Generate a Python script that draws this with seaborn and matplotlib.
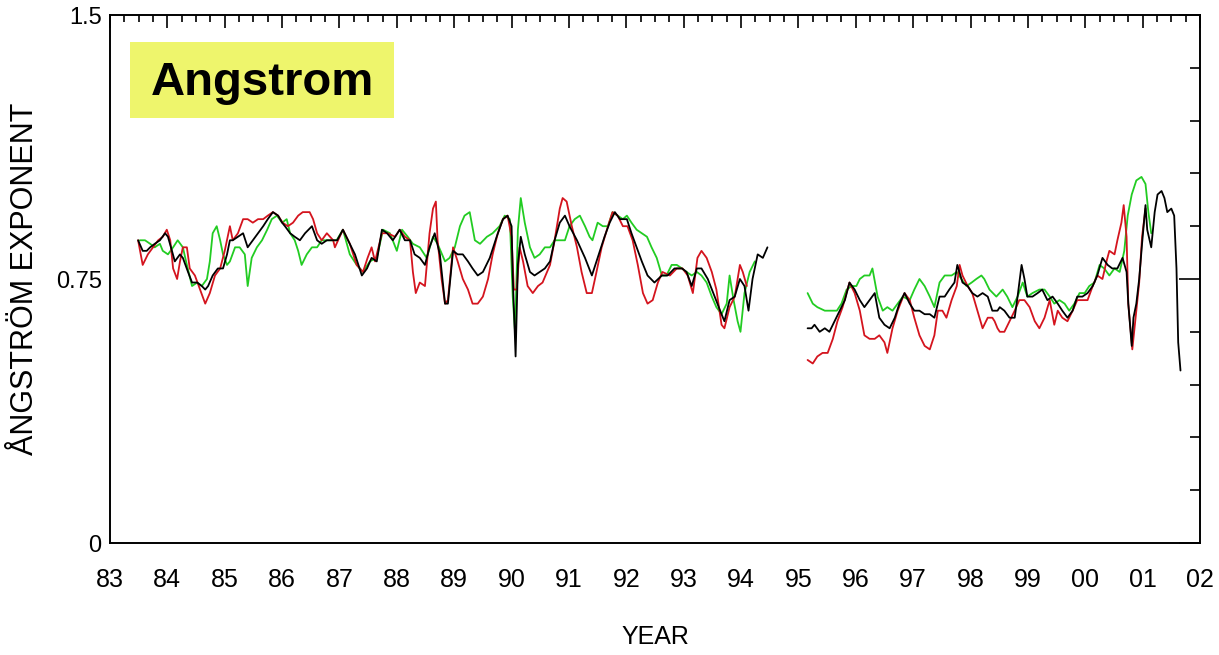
import matplotlib
matplotlib.use("Agg")
import matplotlib.pyplot as plt
from matplotlib.patches import Rectangle
from matplotlib.ticker import MultipleLocator, FixedLocator
import seaborn as sns
import pandas as pd

# ---------------- data ----------------
# Segment 1 (1983.5 - 1994.5)
black1_year = [83.49, 83.57, 83.64, 83.70, 83.78, 83.87, 83.96, 84.01, 84.08, 84.13, 84.22, 84.27, 84.36, 84.43,
               84.52, 84.60, 84.66, 84.71, 84.79, 84.88, 84.97, 85.04, 85.09, 85.14, 85.23, 85.32, 85.40, 85.49,
               85.58, 85.67, 85.75, 85.84, 85.93, 86.00, 86.05, 86.14, 86.22, 86.31, 86.40, 86.52, 86.61, 86.69,
               86.78, 86.89, 86.96, 87.06, 87.15, 87.27, 87.39, 87.48, 87.56, 87.65, 87.74, 87.83, 87.93, 88.05,
               88.14, 88.23, 88.31, 88.40, 88.49, 88.57, 88.66, 88.75, 88.84, 88.89, 88.98, 89.06, 89.15, 89.24,
               89.32, 89.41, 89.50, 89.62, 89.74, 89.85, 89.93, 90.00, 90.02, 90.07, 90.11, 90.16, 90.23, 90.32,
               90.40, 90.49, 90.58, 90.67, 90.75, 90.84, 90.93, 91.01, 91.14, 91.28, 91.40, 91.50, 91.62, 91.71,
               91.80, 91.89, 92.01, 92.09, 92.18, 92.27, 92.37, 92.49, 92.62, 92.72, 92.84, 92.97, 93.05, 93.14,
               93.23, 93.31, 93.42, 93.54, 93.66, 93.71, 93.80, 93.89, 93.98, 94.06, 94.13, 94.20, 94.29, 94.38,
               94.46]
black1_val = [0.86, 0.83, 0.83, 0.84, 0.85, 0.86, 0.88, 0.87, 0.83, 0.80, 0.82, 0.81, 0.77, 0.74,
              0.74, 0.73, 0.72, 0.73, 0.76, 0.78, 0.78, 0.82, 0.86, 0.86, 0.87, 0.88, 0.84, 0.86,
              0.88, 0.90, 0.92, 0.94, 0.93, 0.91, 0.90, 0.88, 0.87, 0.86, 0.88, 0.90, 0.86, 0.85,
              0.86, 0.86, 0.86, 0.89, 0.86, 0.82, 0.76, 0.78, 0.81, 0.80, 0.89, 0.88, 0.86, 0.89,
              0.86, 0.86, 0.82, 0.81, 0.79, 0.84, 0.88, 0.82, 0.68, 0.68, 0.83, 0.82, 0.82, 0.80,
              0.78, 0.76, 0.77, 0.81, 0.87, 0.92, 0.93, 0.90, 0.76, 0.53, 0.79, 0.87, 0.82, 0.77,
              0.76, 0.77, 0.78, 0.80, 0.86, 0.91, 0.93, 0.90, 0.86, 0.81, 0.76, 0.81, 0.87, 0.91,
              0.94, 0.92, 0.92, 0.88, 0.84, 0.80, 0.76, 0.74, 0.76, 0.76, 0.78, 0.78, 0.77, 0.73,
              0.78, 0.78, 0.75, 0.70, 0.65, 0.63, 0.69, 0.70, 0.75, 0.73, 0.66, 0.75, 0.82, 0.81,
              0.84]

red1_year = [83.49, 83.57, 83.66, 83.75, 83.84, 83.92, 83.99, 84.05, 84.10, 84.17, 84.22, 84.27, 84.34, 84.39,
             84.48, 84.57, 84.66, 84.74, 84.83, 84.92, 85.00, 85.09, 85.14, 85.23, 85.32, 85.40, 85.49, 85.58,
             85.67, 85.75, 85.84, 85.93, 86.01, 86.10, 86.19, 86.28, 86.36, 86.48, 86.54, 86.61, 86.69, 86.78,
             86.89, 86.92, 87.06, 87.18, 87.30, 87.41, 87.49, 87.56, 87.62, 87.74, 87.84, 87.97, 88.05, 88.14,
             88.23, 88.28, 88.33, 88.40, 88.49, 88.57, 88.63, 88.68, 88.71, 88.78, 88.84, 88.89, 88.98, 89.06,
             89.15, 89.24, 89.32, 89.41, 89.50, 89.59, 89.67, 89.76, 89.85, 89.93, 90.00, 90.04, 90.09, 90.14,
             90.20, 90.28, 90.37, 90.46, 90.54, 90.67, 90.75, 90.84, 90.89, 90.96, 91.05, 91.14, 91.22, 91.31,
             91.40, 91.48, 91.57, 91.68, 91.76, 91.85, 91.94, 92.02, 92.11, 92.20, 92.29, 92.37, 92.46, 92.55,
             92.63, 92.76, 92.88, 92.98, 93.07, 93.16, 93.24, 93.31, 93.40, 93.49, 93.57, 93.66, 93.71, 93.80,
             93.89, 93.98, 94.03, 94.10]
red1_val = [0.86, 0.79, 0.82, 0.84, 0.86, 0.87, 0.89, 0.86, 0.78, 0.75, 0.80, 0.84, 0.84, 0.78,
            0.76, 0.72, 0.68, 0.71, 0.76, 0.78, 0.83, 0.90, 0.86, 0.88, 0.92, 0.92, 0.91, 0.92,
            0.92, 0.93, 0.94, 0.93, 0.91, 0.90, 0.91, 0.93, 0.94, 0.94, 0.92, 0.88, 0.86, 0.88,
            0.86, 0.84, 0.89, 0.85, 0.79, 0.77, 0.81, 0.84, 0.80, 0.88, 0.88, 0.87, 0.89, 0.87,
            0.86, 0.77, 0.71, 0.74, 0.73, 0.88, 0.95, 0.97, 0.86, 0.75, 0.68, 0.69, 0.84, 0.80,
            0.75, 0.72, 0.68, 0.68, 0.70, 0.75, 0.82, 0.88, 0.92, 0.93, 0.87, 0.72, 0.72, 0.84,
            0.80, 0.73, 0.71, 0.73, 0.74, 0.79, 0.86, 0.95, 0.98, 0.97, 0.90, 0.84, 0.77, 0.71,
            0.71, 0.77, 0.84, 0.90, 0.94, 0.93, 0.90, 0.90, 0.86, 0.79, 0.71, 0.68, 0.69, 0.74,
            0.77, 0.76, 0.78, 0.78, 0.76, 0.71, 0.81, 0.83, 0.81, 0.77, 0.72, 0.62, 0.61, 0.67,
            0.70, 0.79, 0.77, 0.73]

green1_year = [83.52, 83.61, 83.70, 83.78, 83.87, 83.92, 84.01, 84.10, 84.18, 84.27, 84.34, 84.43, 84.52, 84.60,
               84.69, 84.74, 84.79, 84.86, 84.92, 84.97, 85.04, 85.09, 85.18, 85.26, 85.35, 85.40, 85.47, 85.56,
               85.65, 85.74, 85.82, 85.91, 86.00, 86.08, 86.14, 86.22, 86.28, 86.34, 86.43, 86.52, 86.61, 86.69,
               86.78, 86.89, 86.95, 87.06, 87.18, 87.30, 87.41, 87.53, 87.65, 87.76, 87.88, 88.00, 88.09, 88.19,
               88.28, 88.40, 88.52, 88.63, 88.71, 88.84, 88.92, 89.01, 89.10, 89.18, 89.27, 89.36, 89.45, 89.57,
               89.67, 89.79, 89.88, 89.97, 90.02, 90.06, 90.11, 90.16, 90.23, 90.32, 90.40, 90.49, 90.58, 90.67,
               90.75, 90.84, 90.93, 91.01, 91.10, 91.19, 91.28, 91.36, 91.41, 91.50, 91.59, 91.68, 91.76, 91.85,
               91.94, 92.01, 92.09, 92.18, 92.27, 92.36, 92.44, 92.53, 92.62, 92.70, 92.79, 92.88, 92.97, 93.05,
               93.14, 93.23, 93.31, 93.40, 93.49, 93.57, 93.66, 93.75, 93.80, 93.87, 93.94, 93.99, 94.06, 94.15,
               94.24]
green1_val = [0.86, 0.86, 0.85, 0.84, 0.85, 0.83, 0.82, 0.84, 0.86, 0.84, 0.79, 0.73, 0.74, 0.73,
              0.75, 0.80, 0.88, 0.90, 0.86, 0.82, 0.79, 0.80, 0.84, 0.84, 0.82, 0.73, 0.81, 0.84,
              0.86, 0.89, 0.92, 0.93, 0.91, 0.92, 0.88, 0.86, 0.83, 0.79, 0.82, 0.84, 0.84, 0.86,
              0.86, 0.86, 0.86, 0.89, 0.82, 0.79, 0.77, 0.80, 0.81, 0.89, 0.88, 0.83, 0.89, 0.87,
              0.85, 0.84, 0.81, 0.87, 0.85, 0.80, 0.81, 0.84, 0.90, 0.93, 0.94, 0.86, 0.85, 0.87,
              0.88, 0.90, 0.93, 0.92, 0.70, 0.60, 0.89, 0.98, 0.91, 0.84, 0.81, 0.82, 0.84, 0.84,
              0.86, 0.86, 0.86, 0.90, 0.92, 0.93, 0.90, 0.87, 0.86, 0.91, 0.90, 0.90, 0.94, 0.93,
              0.92, 0.93, 0.91, 0.89, 0.88, 0.87, 0.84, 0.81, 0.76, 0.76, 0.79, 0.79, 0.78, 0.77,
              0.76, 0.77, 0.76, 0.74, 0.70, 0.67, 0.65, 0.68, 0.76, 0.69, 0.63, 0.60, 0.71, 0.77,
              0.80]

# Segment 2 (1995.2 - 2001.7)
black2_year = [95.16, 95.23, 95.28, 95.37, 95.46, 95.54, 95.63, 95.72, 95.81, 95.89, 95.98, 96.07, 96.15, 96.24,
               96.33, 96.41, 96.50, 96.59, 96.68, 96.76, 96.85, 96.94, 97.02, 97.11, 97.20, 97.29, 97.37, 97.46,
               97.55, 97.63, 97.72, 97.77, 97.86, 97.95, 98.03, 98.12, 98.21, 98.30, 98.38, 98.47, 98.51, 98.59,
               98.68, 98.77, 98.82, 98.89, 98.94, 98.99, 99.08, 99.17, 99.25, 99.34, 99.43, 99.52, 99.60, 99.69,
               99.78, 99.86, 99.95, 100.04, 100.13, 100.21, 100.30, 100.39, 100.47, 100.56, 100.65, 100.72, 100.75,
               100.81, 100.84, 100.89, 100.94, 100.99, 101.05, 101.08, 101.15, 101.21, 101.26, 101.33, 101.38,
               101.43, 101.50, 101.55, 101.59, 101.62, 101.66]
black2_val = [0.61, 0.61, 0.62, 0.60, 0.61, 0.60, 0.63, 0.66, 0.69, 0.74, 0.72, 0.69, 0.67, 0.69,
              0.71, 0.64, 0.62, 0.61, 0.64, 0.68, 0.71, 0.68, 0.66, 0.66, 0.65, 0.65, 0.64, 0.70,
              0.70, 0.72, 0.74, 0.79, 0.74, 0.73, 0.71, 0.70, 0.71, 0.70, 0.66, 0.66, 0.67, 0.66,
              0.64, 0.64, 0.70, 0.79, 0.75, 0.70, 0.70, 0.71, 0.72, 0.69, 0.70, 0.68, 0.66, 0.64,
              0.66, 0.70, 0.70, 0.71, 0.73, 0.76, 0.81, 0.79, 0.78, 0.78, 0.81, 0.77, 0.68,
              0.56, 0.64, 0.68, 0.75, 0.85, 0.96, 0.89, 0.84, 0.94, 0.99, 1.00, 0.98,
              0.94, 0.95, 0.93, 0.78, 0.57, 0.49]

red2_year = [95.16, 95.25, 95.33, 95.42, 95.51, 95.60, 95.68, 95.77, 95.89, 95.98, 96.07, 96.15, 96.24, 96.33,
             96.41, 96.50, 96.55, 96.64, 96.73, 96.85, 96.94, 97.02, 97.11, 97.20, 97.29, 97.37, 97.43, 97.51,
             97.58, 97.67, 97.76, 97.81, 97.86, 97.95, 98.03, 98.12, 98.21, 98.30, 98.38, 98.42, 98.47, 98.51,
             98.59, 98.68, 98.77, 98.85, 98.94, 99.03, 99.12, 99.20, 99.29, 99.38, 99.46, 99.52, 99.60, 99.69,
             99.78, 99.86, 99.95, 100.04, 100.13, 100.21, 100.30, 100.37, 100.42, 100.51, 100.56, 100.63, 100.67,
             100.72, 100.75, 100.82, 100.89, 100.94, 100.99, 101.05]
red2_val = [0.52, 0.51, 0.53, 0.54, 0.54, 0.58, 0.63, 0.67, 0.74, 0.71, 0.66, 0.59, 0.58, 0.58,
            0.59, 0.57, 0.54, 0.61, 0.66, 0.71, 0.69, 0.64, 0.59, 0.56, 0.55, 0.59, 0.66, 0.66,
            0.64, 0.69, 0.73, 0.79, 0.76, 0.73, 0.71, 0.66, 0.61, 0.64, 0.64, 0.63, 0.61, 0.60,
            0.60, 0.63, 0.66, 0.69, 0.69, 0.67, 0.63, 0.61, 0.64, 0.69, 0.62, 0.66, 0.64, 0.63,
            0.66, 0.69, 0.69, 0.69, 0.73, 0.76, 0.75, 0.80, 0.83, 0.82, 0.86, 0.91, 0.96,
            0.87, 0.68, 0.55, 0.66, 0.74, 0.87, 0.95]

green2_year = [95.16, 95.25, 95.33, 95.46, 95.58, 95.67, 95.75, 95.84, 95.93, 96.01, 96.07, 96.15, 96.24, 96.29,
               96.38, 96.47, 96.55, 96.64, 96.73, 96.82, 96.94, 97.02, 97.11, 97.20, 97.29, 97.37, 97.46, 97.55,
               97.67, 97.76, 97.84, 97.93, 98.02, 98.10, 98.19, 98.24, 98.33, 98.45, 98.56, 98.64, 98.73, 98.82,
               98.91, 98.99, 99.08, 99.20, 99.29, 99.38, 99.46, 99.55, 99.64, 99.72, 99.81, 99.90, 99.99, 100.07,
               100.16, 100.25, 100.33, 100.42, 100.51, 100.60, 100.68, 100.74, 100.81, 100.89, 100.98, 101.05,
               101.10, 101.15]
green2_val = [0.71, 0.68, 0.67, 0.66, 0.66, 0.66, 0.68, 0.72, 0.73, 0.73, 0.75, 0.76, 0.76, 0.78,
              0.70, 0.66, 0.67, 0.66, 0.68, 0.70, 0.69, 0.72, 0.75, 0.73, 0.70, 0.67, 0.74, 0.76,
              0.76, 0.77, 0.75, 0.73, 0.74, 0.75, 0.76, 0.75, 0.72, 0.70, 0.72, 0.70, 0.67, 0.70,
              0.74, 0.70, 0.71, 0.72, 0.72, 0.70, 0.68, 0.69, 0.68, 0.66, 0.68, 0.71, 0.71, 0.73,
              0.74, 0.79, 0.78, 0.76, 0.78, 0.77, 0.83, 0.93, 0.99, 1.03, 1.04, 1.02,
              0.94, 0.88]

year_ticks = list(range(83, 103))
year_labels = ["83", "84", "85", "86", "87", "88", "89", "90", "91", "92", "93", "94", "95",
               "96", "97", "98", "99", "00", "01", "02"]
y_ticks = [0, 0.75, 1.5]
y_labels = ["0", "0.75", "1.5"]
title_text = "Angstrom"
xlabel_text = "YEAR"
ylabel_text = "ÅNGSTRÖM EXPONENT"

# ---------------- build long table ----------------
frames = []
for name, seg, xs, ys in [
    ("green", 1, green1_year, green1_val), ("green", 2, green2_year, green2_val),
    ("red", 1, red1_year, red1_val), ("red", 2, red2_year, red2_val),
    ("black", 1, black1_year, black1_val), ("black", 2, black2_year, black2_val),
]:
    frames.append(pd.DataFrame({"year": xs, "value": ys, "series": name,
                                "segment": f"{name}{seg}"}))
df = pd.concat(frames, ignore_index=True)

# ---------------- styling ----------------
sns.set_style("white")
plt.rcParams["font.family"] = ["Liberation Sans Narrow", "Liberation Sans", "DejaVu Sans"]
plt.rcParams["text.color"] = "black"
plt.rcParams["axes.labelcolor"] = "black"
plt.rcParams["xtick.color"] = "black"
plt.rcParams["ytick.color"] = "black"

fig = plt.figure(figsize=(12.19, 6.55), dpi=100)
ax = fig.add_axes([110 / 1219, 1 - 543 / 655, 1090 / 1219, 528 / 655])

palette = {"green": "#22cc22", "red": "#d4141e", "black": "#000000"}
sns.lineplot(data=df, x="year", y="value", hue="series", units="segment",
             estimator=None, sort=False, palette=palette,
             hue_order=["green", "red", "black"], linewidth=1.3, ax=ax, legend=False)

ax.set_xlim(83, 102)
ax.set_ylim(0, 1.5)

ax.xaxis.set_major_locator(FixedLocator(year_ticks))
ax.set_xticklabels(year_labels)
ax.xaxis.set_minor_locator(MultipleLocator(0.25))
ax.yaxis.set_major_locator(FixedLocator(y_ticks))
ax.set_yticklabels(y_labels)
ax.yaxis.set_minor_locator(MultipleLocator(0.15))

ax.tick_params(axis="both", which="both", direction="in", top=True, right=True,
               colors="black", width=1.2)
ax.tick_params(axis="x", which="major", length=9.5, labelsize=18, pad=18)
ax.tick_params(axis="x", which="minor", length=5)
ax.tick_params(axis="y", which="major", length=15, labelsize=17, pad=6)
ax.tick_params(axis="y", which="minor", length=7.5)

for sp in ax.spines.values():
    sp.set_visible(True)
    sp.set_color("black")
    sp.set_linewidth(1.4)

ax.set_xlabel(xlabel_text, fontsize=18, labelpad=24)
ax.set_ylabel(ylabel_text, fontsize=22, family=["Liberation Sans", "DejaVu Sans"])
ax.yaxis.set_label_coords(-0.064, 0.5)

ax.add_patch(Rectangle((0.018, 0.805), 0.243, 0.144, transform=ax.transAxes,
                       facecolor="#eef56c", edgecolor="none", zorder=5))
ax.text(0.037, 0.872, title_text, transform=ax.transAxes, fontsize=34, fontweight="bold",
        family=["Liberation Sans", "DejaVu Sans"], va="center", ha="left", zorder=6)

fig.savefig("out.png", dpi=100, facecolor="white")
